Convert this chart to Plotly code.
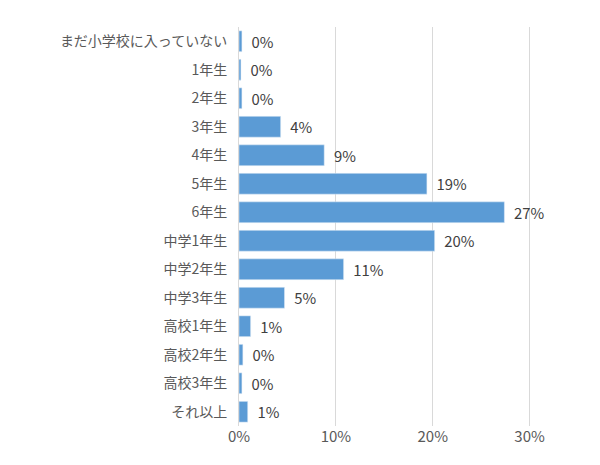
import plotly.graph_objects as go

categories = ["まだ小学校に入っていない","1年生","2年生","3年生","4年生","5年生","6年生",
              "中学1年生","中学2年生","中学3年生","高校1年生","高校2年生","高校3年生","それ以上"]
values = [0.3,0.2,0.3,4.3,8.8,19.4,27.4,20.2,10.8,4.7,1.2,0.4,0.3,0.9]
labels = [f"  {round(v)}%" for v in values]

fig = go.Figure(go.Bar(
    y=categories, x=values, orientation="h", marker_color="#5B9BD5",
    text=labels, textposition="outside", cliponaxis=False,
    textfont=dict(size=15, color="#404040")))
fig.update_layout(
    width=600, height=465, plot_bgcolor="white", paper_bgcolor="white",
    margin=dict(l=231, r=30, t=19, b=47), bargap=0.27, showlegend=False,
    font=dict(family="Noto Sans CJK JP", size=14, color="#595959"),
    xaxis=dict(range=[0, 35], tickvals=[0,10,20,30], ticktext=["0%","10%","20%","30%"],
               showgrid=True, gridcolor="#D9D9D9", zeroline=False, tickfont=dict(size=15),
               ticks="", showline=False, automargin=False),
    yaxis=dict(autorange="reversed", showline=True, linecolor="#D9D9D9", ticks="",
               ticklabelstandoff=8, tickfont=dict(size=14), automargin=False),
)
fig.write_html("out.html")
